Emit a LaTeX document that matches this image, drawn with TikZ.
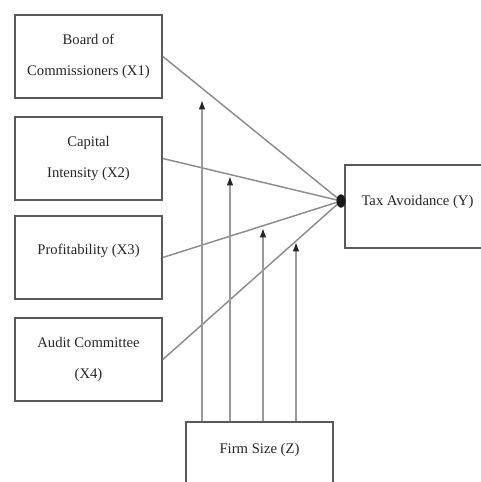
\documentclass[tikz,border=0pt]{standalone}
\usepackage{fontspec}
\setmainfont{Liberation Serif}
\usetikzlibrary{arrows.meta,calc}
\begin{document}
\begin{tikzpicture}[x=0.75pt,y=-0.75pt,
  varbox/.style={draw=black!65,line width=1.5pt,fill=white,
    minimum width=110pt,minimum height=62pt,inner sep=0pt,
    align=center,text=black!85,
    font=\rmfamily\fontsize{11}{23}\selectfont},
  link/.style={draw=black!45,line width=1.1pt},
  modarrow/.style={draw=black!40,line width=1.1pt,
    arrows={-{Latex[length=7pt,width=5pt,color=black!85]}}}
]
\useasboundingbox (0,0) rectangle (480,482);
\node[varbox] (x1) at (88.5,56.5) {Board of\\Commissioners (X1)};
\node[varbox] (x2) at (88.5,158.5) {Capital\\Intensity (X2)};
\node[varbox,text depth=12pt] (x3) at (88.5,257.5) {Profitability (X3)};
\node[varbox] (x4) at (88.5,359.5) {Audit Committee\\(X4)};
\node[varbox,minimum width=108.75pt,text depth=9pt] (y) at (417.5,206.5) {Tax Avoidance (Y)};
\node[varbox,text depth=23pt] (z) at (259.5,463.5) {Firm Size (Z)};
\coordinate (j) at (341,201);
\foreach \s in {x1,x2,x3,x4}{
  \draw[link] (\s.east) -- (j);
}
\fill[black!90] (j) ellipse [x radius=3.4pt, y radius=5pt];
\coordinate (t1) at (202,100);
\coordinate (t2) at (230,176);
\coordinate (t3) at (263,228);
\coordinate (t4) at (296,242);
\foreach \t in {t1,t2,t3,t4}{
  \draw[modarrow] (z.north -| \t) -- (\t);
}
\end{tikzpicture}
\end{document}
